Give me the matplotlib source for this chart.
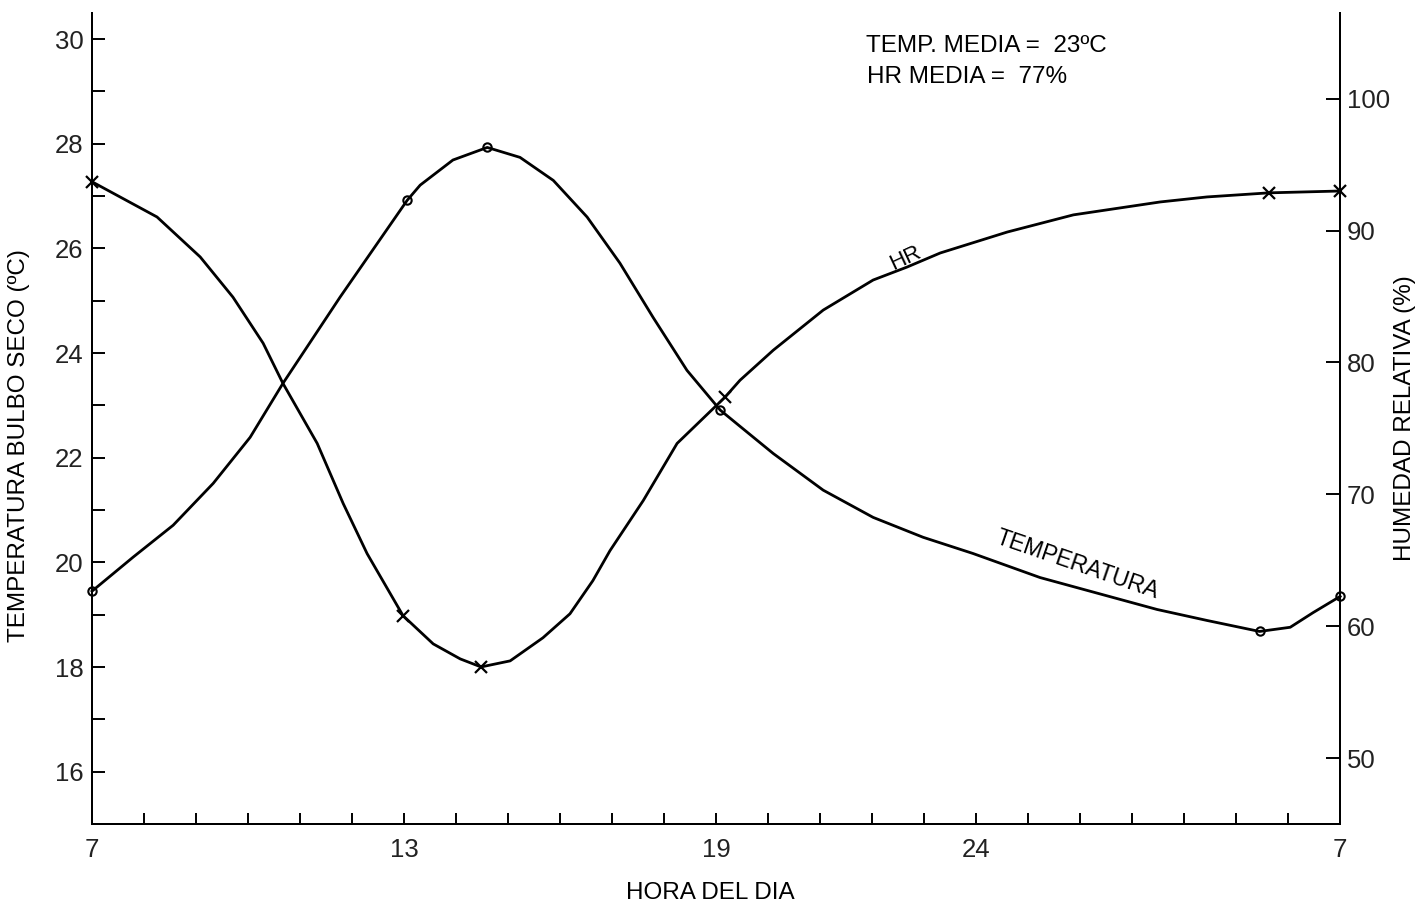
#!/usr/bin/env python3
#
import sys

import matplotlib
matplotlib.use('Agg')
import matplotlib.pyplot as plt

plt.rcParams['font.family'] = ['Liberation Sans', 'DejaVu Sans']

# hours of the day (7 -> 31 means 7h of the next day)
TEMP_HOURS = [7.0, 7.79, 8.56, 9.33, 10.04, 10.67, 11.77, 13.06, 13.31, 13.94,
              14.6, 15.23, 15.87, 16.52, 17.15, 17.79, 18.44, 19.08, 19.46, 20.1,
              21.06, 22.02, 22.98, 23.94, 25.23, 26.52, 27.48, 28.44, 29.45,
              30.04, 30.48, 31.0]
TEMP_VALUES = [19.45, 20.10, 20.71, 21.51, 22.39, 23.42, 25.07, 26.92, 27.21, 27.69,
               27.93, 27.74, 27.30, 26.60, 25.72, 24.68, 23.67, 22.91, 22.60, 22.08,
               21.38, 20.86, 20.48, 20.17, 19.71, 19.36, 19.10, 18.89, 18.68,
               18.76, 19.04, 19.35]
TEMP_MARK_HOURS = [7.0, 13.06, 14.6, 19.08, 29.45, 31.0]
TEMP_MARK_VALUES = [19.45, 26.92, 27.93, 22.91, 18.68, 19.35]

HR_HOURS = [7.0, 8.25, 9.08, 9.71, 10.29, 10.67, 11.33, 11.83, 12.29, 12.98, 13.56,
            14.08, 14.48, 15.04, 15.67, 16.19, 16.63, 16.96, 17.6, 18.25, 19.17,
            19.46, 20.1, 21.06, 22.02, 22.67, 23.31, 24.6, 25.87, 27.54, 28.44,
            29.63, 31.0]
HR_VALUES = [93.7, 91.03, 88.0, 84.95, 81.46, 78.42, 73.86, 69.3, 65.5, 60.8, 58.66,
             57.52, 56.91, 57.37, 59.12, 60.94, 63.45, 65.73, 69.53, 73.86, 77.36,
             78.65, 80.93, 83.97, 86.25, 87.23, 88.3, 89.89, 91.19, 92.17, 92.55,
             92.86, 93.0]
HR_MARK_HOURS = [7.0, 12.98, 14.48, 19.17, 29.63, 31.0]
HR_MARK_VALUES = [93.7, 60.8, 56.91, 77.36, 92.86, 93.0]

X_TICKS = [7, 13, 19, 24, 31]
X_TICK_LABELS = ['7', '13', '19', '24', '7']
TEMP_TICKS = [16, 18, 20, 22, 24, 26, 28, 30]
HR_TICKS = [50, 60, 70, 80, 90, 100]

MEAN_TEMP = 23
MEAN_HR = 77


def graph(filename):
  fig = plt.figure(figsize=(14.18, 9.07), dpi=100)
  axt = fig.add_axes([0.0649, 0.0915, 0.8802, 0.8942])
  axh = axt.twinx()

  for axis in (axt, axh):
    axis.spines['top'].set_visible(False)
    for side in ('left', 'right', 'bottom'):
      axis.spines[side].set_linewidth(1.4)

  # temperature curve, left scale
  axt.plot(TEMP_HOURS, TEMP_VALUES, color='black', linewidth=2, zorder=3,
           clip_on=False, solid_joinstyle='round')
  axt.plot(TEMP_MARK_HOURS, TEMP_MARK_VALUES, linestyle='none', marker='o',
           markersize=6, markerfacecolor='none', markeredgecolor='black',
           markeredgewidth=1.5, zorder=4, clip_on=False)

  # relative humidity curve, right scale
  axh.plot(HR_HOURS, HR_VALUES, color='black', linewidth=2, zorder=3,
           clip_on=False, solid_joinstyle='round')
  axh.plot(HR_MARK_HOURS, HR_MARK_VALUES, linestyle='none', marker='x',
           markersize=9, markeredgecolor='black', markeredgewidth=1.6, zorder=4,
           clip_on=False)

  axt.set_xlim(7, 31)
  axt.set_ylim(15, 30.5)
  axh.set_ylim(45, 106.5)

  axt.set_xticks(X_TICKS)
  axt.set_xticklabels(X_TICK_LABELS)
  axt.set_xticks(range(7, 32), minor=True)
  axt.set_yticks(TEMP_TICKS)
  axt.set_yticks(range(16, 31), minor=True)
  axh.set_yticks(HR_TICKS)

  axt.tick_params(axis='x', which='both', direction='in', length=8, width=1.4,
                  labelsize=18.5, pad=10)
  axt.tick_params(axis='y', which='both', direction='in', length=9, width=1.4,
                  labelsize=18.5, pad=6)
  axh.tick_params(axis='y', direction='in', length=10, width=1.4,
                  labelsize=18.5, pad=5)
  for lab in axt.get_xticklabels() + axt.get_yticklabels() + axh.get_yticklabels():
    lab.set_color('#222222')

  axt.set_xlabel('HORA DEL DIA', fontsize=17.5)
  axt.xaxis.set_label_coords(0.495, -0.071)
  axt.set_ylabel('TEMPERATURA BULBO SECO (ºC)', fontsize=17.5)
  axt.yaxis.set_label_coords(-0.0497, 0.467)
  axh.set_ylabel('HUMEDAD RELATIVA (%)', fontsize=17.5)
  axh.yaxis.set_label_coords(1.043, 0.5)

  axt.text(0.62, 0.959, f'TEMP. MEDIA =  {MEAN_TEMP}ºC', transform=axt.transAxes,
           fontsize=17.5, ha='left', va='center')
  axt.text(0.621, 0.921, f'HR MEDIA =  {MEAN_HR}%', transform=axt.transAxes,
           fontsize=17.5, ha='left', va='center')

  # curve names written along the lines
  axh.text(22.65, 87.9, 'HR', fontsize=16, rotation=25, ha='center',
           va='center')
  axt.text(25.95, 19.95, 'TEMPERATURA', fontsize=16.5, rotation=-19,
           ha='center', va='center')

  plt.savefig(filename, dpi=100)
  plt.close()
  return filename


def main():
  try:
    name = sys.argv[1]
  except IndexError:
    name = 'out.png'
  graph(name)


if __name__ == "__main__":
  sys.exit(main())
